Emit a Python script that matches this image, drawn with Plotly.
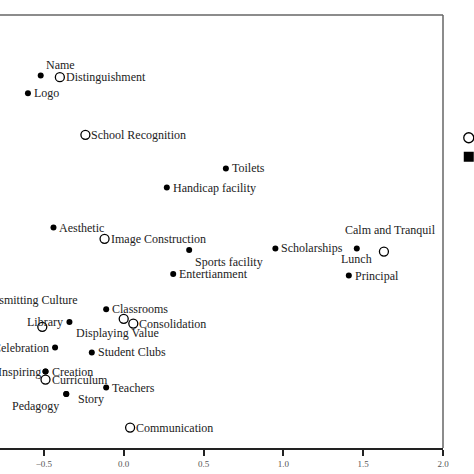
import plotly.graph_objects as go

# correspondence map: open circles / filled dots
open_names = ["Distinguishment", "School Recognition", "Image Construction", "Calm and Tranquil",
              "Displaying Value", "Consolidation", "Transmitting Culture", "Curriculum", "Communication"]
open_x = [-0.40, -0.24, -0.12, 1.63, 0.00, 0.06, -0.51, -0.49, 0.04]
open_y = [1.33, 0.97, 0.32, 0.24, -0.18, -0.21, -0.23, -0.56, -0.86]

filled_names = ["Name", "Logo", "Toilets", "Handicap facility", "Aesthetic", "Sports facility",
                "Entertianment", "Scholarships", "Lunch", "Principal", "Classrooms", "Library",
                "Celebration", "Student Clubs", "Creation", "Inspiring", "Teachers", "Story", "Pedagogy"]
filled_x = [-0.52, -0.60, 0.64, 0.27, -0.44, 0.41, 0.31, 0.95, 1.46, 1.41, -0.11, -0.34,
            -0.43, -0.20, -0.49, -0.49, -0.11, -0.36, -0.36]
filled_y = [1.34, 1.23, 0.76, 0.64, 0.39, 0.25, 0.10, 0.26, 0.26, 0.09, -0.12, -0.20,
            -0.36, -0.39, -0.51, -0.51, -0.61, -0.65, -0.65]

x_ticks = [-0.5, 0.0, 0.5, 1.0, 1.5, 2.0]

# label placement (anchor, xshift, yshift) in pixels; default is right of the point
label_style = {
    "Name": ("left", 3, 11),
    "Sports facility": ("left", 4, -12),
    "Lunch": ("center", 0, -11),
    "Calm and Tranquil": ("center", 7, 22),
    "Displaying Value": ("center", -6, -14),
    "Library": ("right", -4, 0),
    "Transmitting Culture": ("right", 38, 27),
    "Celebration": ("right", -4, 0),
    "Inspiring": ("right", -3, 0),
    "Story": ("left", 10, -5),
    "Pedagogy": ("right", -5, -12),
}

font = "Liberation Serif"
fig = go.Figure()
fig.add_trace(go.Scatter(x=open_x, y=open_y, mode="markers", showlegend=False,
                         marker=dict(symbol="circle-open", size=9, color="black", line=dict(width=1.3))))
fig.add_trace(go.Scatter(x=filled_x, y=filled_y, mode="markers", showlegend=False,
                         marker=dict(symbol="circle", size=6, color="black")))
# legend entries (cut off by the right edge)
fig.add_trace(go.Scatter(x=[None], y=[None], mode="markers", name="Image",
                         marker=dict(symbol="circle-open", size=10, color="black", line=dict(width=1.3))))
fig.add_trace(go.Scatter(x=[None], y=[None], mode="markers", name="Attributes",
                         marker=dict(symbol="square", size=10, color="black")))

for names, xs, ys in [(open_names, open_x, open_y), (filled_names, filled_x, filled_y)]:
    for n, x, y in zip(names, xs, ys):
        anchor, dx, dy = label_style.get(n, ("left", 4, 0))
        fig.add_annotation(x=x, y=y, text=n, showarrow=False, xanchor=anchor, yanchor="middle",
                           xshift=dx, yshift=dy, font=dict(family=font, size=12, color="#222"))

fig.add_shape(type="line", xref="paper", yref="paper", x0=0, x1=1, y0=1, y1=1,
              line=dict(color="#666", width=1.5))
fig.add_shape(type="line", xref="paper", yref="paper", x0=1, x1=1, y0=0, y1=1,
              line=dict(color="#666", width=1.5))

fig.update_layout(
    width=474, height=474,
    margin=dict(l=0, r=31, t=15, b=26, autoexpand=False),
    plot_bgcolor="white", paper_bgcolor="white",
    font=dict(family=font, size=12, color="#222"),
    legend=dict(x=1.013, y=0.75, xanchor="left", yanchor="top", bgcolor="rgba(0,0,0,0)",
                font=dict(family=font, size=12)),
    xaxis=dict(range=[-0.775, 2.0], tickvals=x_ticks, tickformat=".1f",
               showgrid=False, zeroline=False, showline=True, linecolor="#222", linewidth=2,
               ticks="outside", ticklen=6, tickwidth=1.5, tickcolor="#222",
               tickfont=dict(family=font, size=9, color="#555")),
    yaxis=dict(range=[-0.9875, 1.71875], showgrid=False, zeroline=False, showline=False,
               showticklabels=False, ticks=""),
)

# drop the default page margin so the figure sits at the window's corner
fig.write_html("out.html", config={"displayModeBar": False},
               post_script="document.body.style.margin = '0';")
